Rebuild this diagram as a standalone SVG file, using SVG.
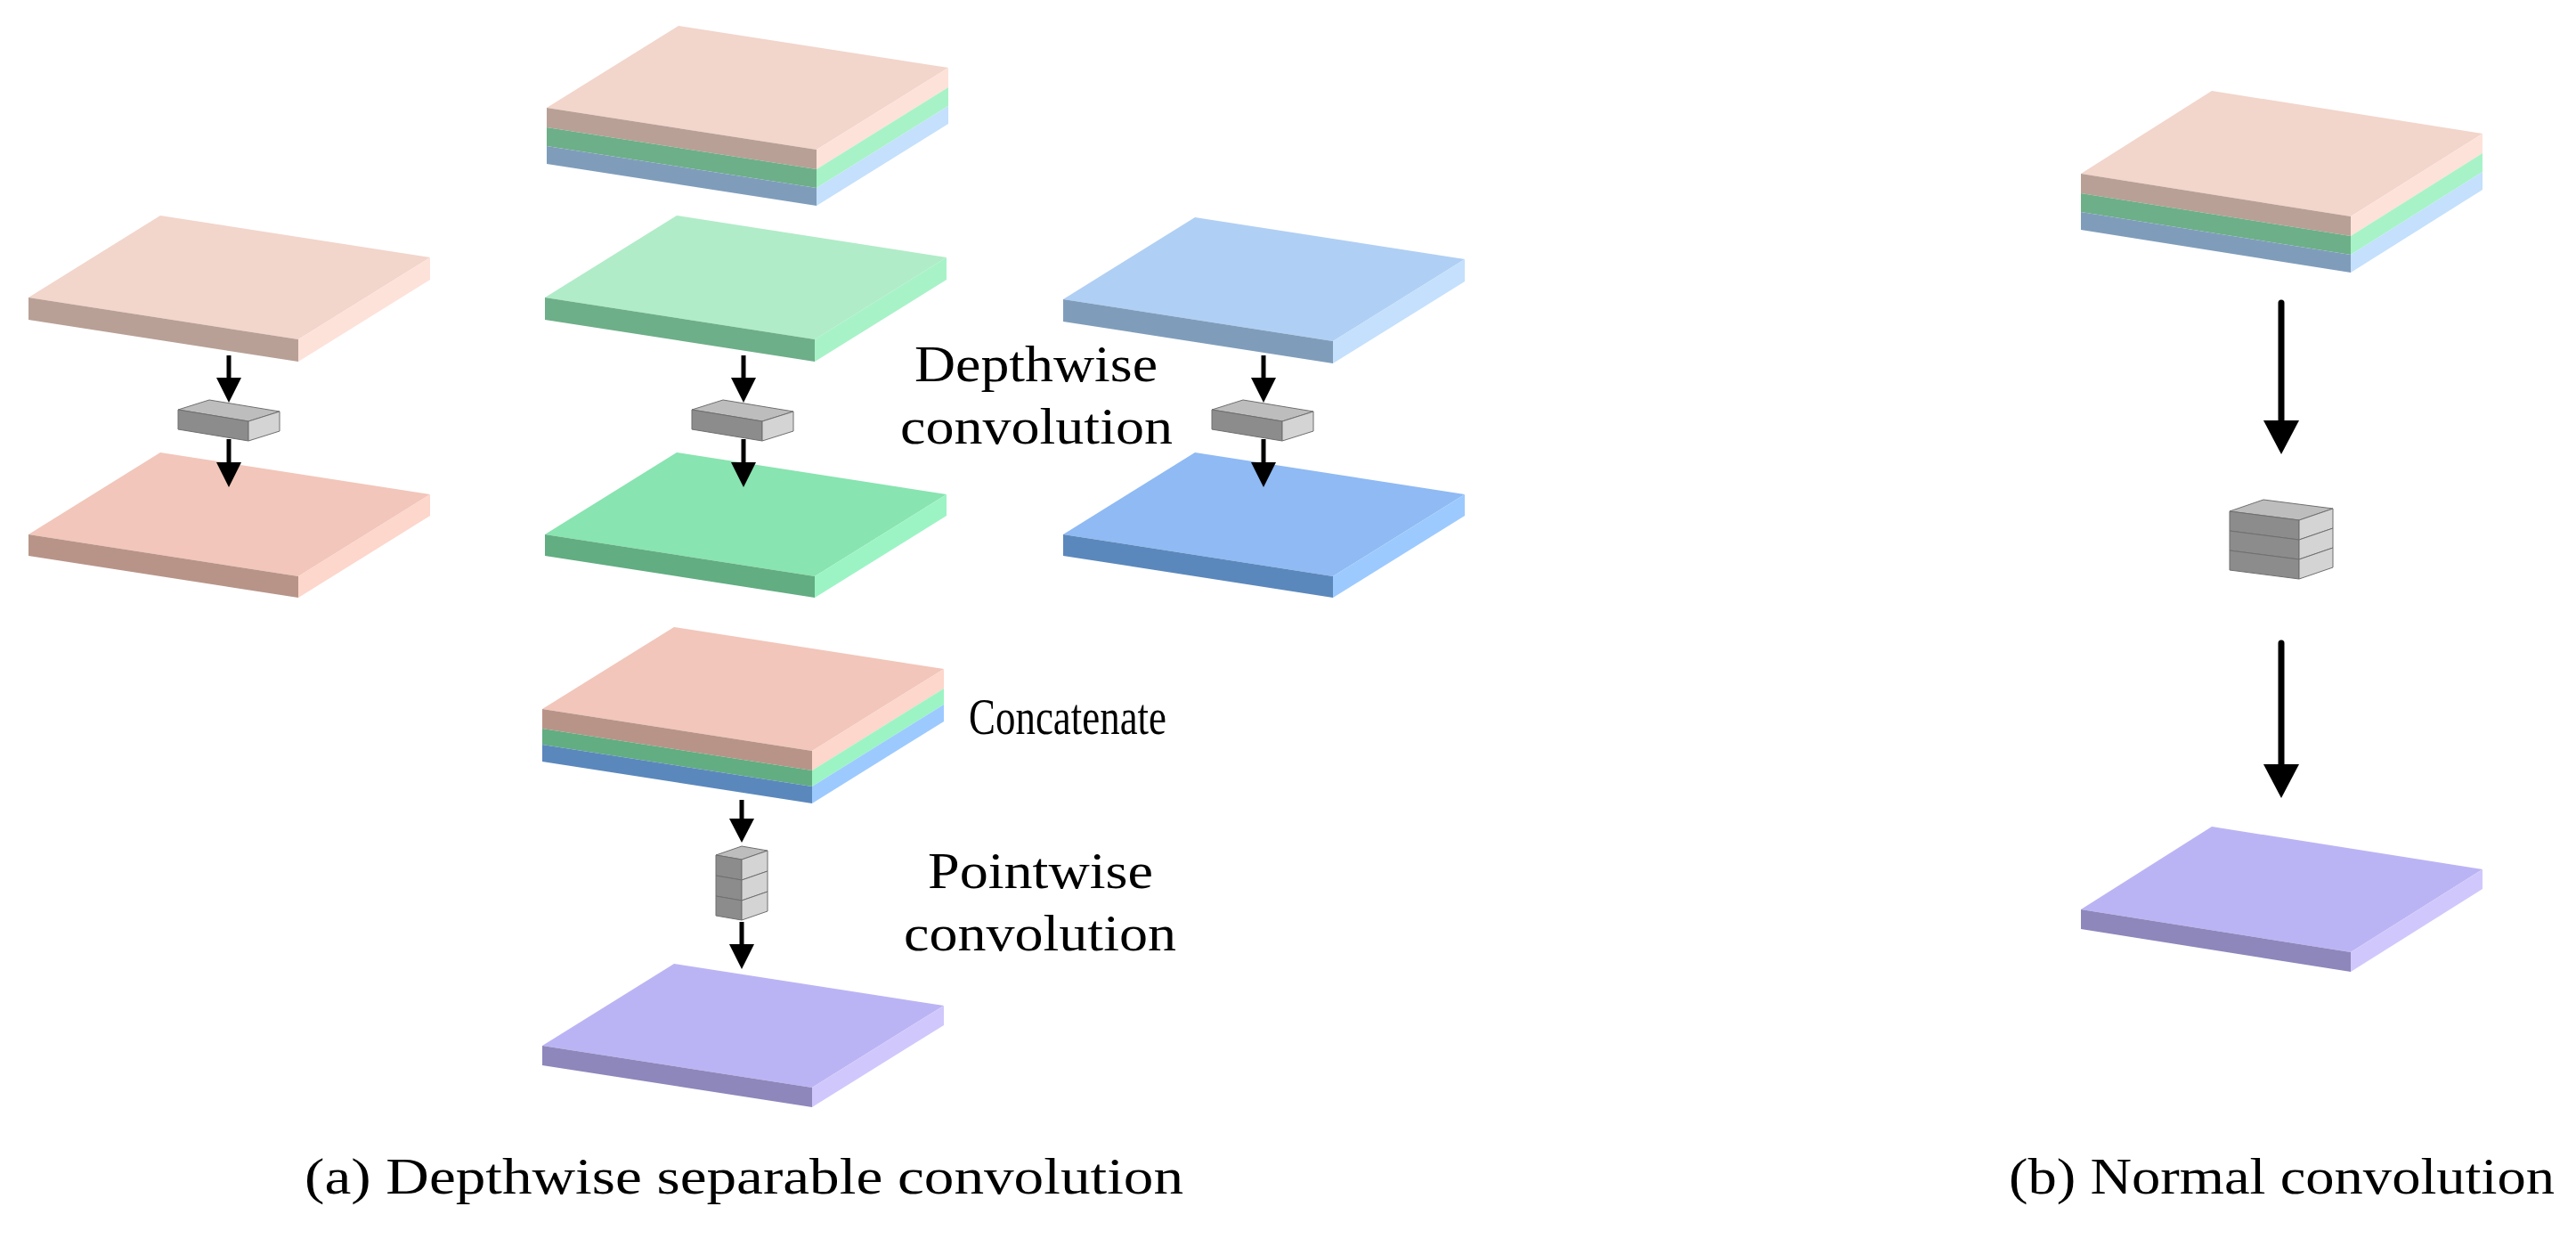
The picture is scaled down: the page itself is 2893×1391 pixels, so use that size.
<svg xmlns="http://www.w3.org/2000/svg" width="2893" height="1391" viewBox="0 0 2893 1391">
<style>
.t{font-family:"Liberation Serif",serif;font-size:56px;fill:#000}
.cap{font-family:"Liberation Serif",serif;font-size:56px;fill:#000}
.ln{stroke:#000;stroke-width:5;fill:none}
.lnb{stroke:#000;stroke-width:7;fill:none;stroke-linecap:round}
.ah{fill:#000}
.ct{fill:#bdbdbd;stroke:#6f6f6f;stroke-width:1}
.cf{fill:#8c8c8c;stroke:#6f6f6f;stroke-width:1}
.cr{fill:#d4d4d4;stroke:#6f6f6f;stroke-width:1}
</style>
<defs>
<g id="slabshape">
<polygon points="0,0 303,47 451,-45 148,-92"/>
</g>
</defs>
<rect width="2893" height="1391" fill="#fff"/>

<!-- left column -->
<g id="pink-in" transform="translate(32,334)">
<polygon points="0,0 303,47 451,-45 148,-92" fill="#f2d5cb"/>
<polygon points="0,0 303,47 303,72 0,25" fill="#b8a096"/>
<polygon points="303,47 451,-45 451,-20 303,72" fill="#fde2da"/>
</g>
<g id="kernel-1" transform="translate(200,460)">
<polygon class="ct" points="0,0 79,13 114,2 35,-11"/>
<polygon class="cf" points="0,0 79,13 79,35 0,22"/>
<polygon class="cr" points="79,13 114,2 114,24 79,35"/>
</g>
<g id="pink-out" transform="translate(32,600)">
<polygon points="0,0 303,47 451,-45 148,-92" fill="#f2c6ba"/>
<polygon points="0,0 303,47 303,71 0,24" fill="#b89488"/>
<polygon points="303,47 451,-45 451,-21 303,71" fill="#fdd6cc"/>
</g>

<!-- middle column -->
<g id="input-stack" transform="translate(614,121)">
<polygon points="0,0 303,47 451,-45 148,-92" fill="#f2d5cb"/>
<polygon points="0,0 303,47 303,69 0,22" fill="#b8a096"/>
<polygon points="0,22 303,69 303,90 0,43" fill="#6daf88"/>
<polygon points="0,43 303,90 303,110 0,63" fill="#7f9dbb"/>
<polygon points="303,47 451,-45 451,-23 303,69" fill="#fde2da"/>
<polygon points="303,69 451,-23 451,-2 303,90" fill="#a8f2c8"/>
<polygon points="303,90 451,-2 451,18 303,110" fill="#c4e0fc"/>
</g>
<g id="green-in" transform="translate(612,334)">
<polygon points="0,0 303,47 451,-45 148,-92" fill="#b0ecc8"/>
<polygon points="0,0 303,47 303,72 0,25" fill="#6daf88"/>
<polygon points="303,47 451,-45 451,-20 303,72" fill="#a8f2c8"/>
</g>
<g id="kernel-2" transform="translate(777,460)">
<polygon class="ct" points="0,0 79,13 114,2 35,-11"/>
<polygon class="cf" points="0,0 79,13 79,35 0,22"/>
<polygon class="cr" points="79,13 114,2 114,24 79,35"/>
</g>
<g id="green-out" transform="translate(612,600)">
<polygon points="0,0 303,47 451,-45 148,-92" fill="#88e4b0"/>
<polygon points="0,0 303,47 303,71 0,24" fill="#62ad82"/>
<polygon points="303,47 451,-45 451,-21 303,71" fill="#9cf4c4"/>
</g>

<!-- right column -->
<g id="blue-in" transform="translate(1194,336)">
<polygon points="0,0 303,47 451,-45 148,-92" fill="#b0cff4"/>
<polygon points="0,0 303,47 303,72 0,25" fill="#7f9dbb"/>
<polygon points="303,47 451,-45 451,-20 303,72" fill="#c4e0fc"/>
</g>
<g id="kernel-3" transform="translate(1361,460)">
<polygon class="ct" points="0,0 79,13 114,2 35,-11"/>
<polygon class="cf" points="0,0 79,13 79,35 0,22"/>
<polygon class="cr" points="79,13 114,2 114,24 79,35"/>
</g>
<g id="blue-out" transform="translate(1194,600)">
<polygon points="0,0 303,47 451,-45 148,-92" fill="#8fbaf4"/>
<polygon points="0,0 303,47 303,71 0,24" fill="#5b88bc"/>
<polygon points="303,47 451,-45 451,-21 303,71" fill="#9ccaff"/>
</g>

<!-- concatenate -->
<g id="concat" transform="translate(609,796)">
<polygon points="0,0 303,47 451,-45 148,-92" fill="#f2c6ba"/>
<polygon points="0,0 303,47 303,69 0,22" fill="#b89488"/>
<polygon points="0,22 303,69 303,87 0,40" fill="#62ad82"/>
<polygon points="0,40 303,87 303,106 0,59" fill="#5b88bc"/>
<polygon points="303,47 451,-45 451,-23 303,69" fill="#fdd6cc"/>
<polygon points="303,69 451,-23 451,-5 303,87" fill="#9cf4c4"/>
<polygon points="303,87 451,-5 451,14 303,106" fill="#9ccaff"/>
</g>
<g id="pointwise-kernel" transform="translate(804,960)">
<polygon class="ct" points="0,0 29,5 58,-5 29,-10"/>
<polygon class="cf" points="0,0 29,5 29,28 0,23"/>
<polygon class="cf" points="0,23 29,28 29,51 0,46"/>
<polygon class="cf" points="0,46 29,51 29,73 0,68"/>
<polygon class="cr" points="29,5 58,-5 58,18 29,28"/>
<polygon class="cr" points="29,28 58,18 58,41 29,51"/>
<polygon class="cr" points="29,51 58,41 58,63 29,73"/>
</g>
<g id="pointwise-out" transform="translate(609,1174)">
<polygon points="0,0 303,47 451,-45 148,-92" fill="#bbb4f4"/>
<polygon points="0,0 303,47 303,69 0,22" fill="#8d87bc"/>
<polygon points="303,47 451,-45 451,-23 303,69" fill="#d0c8fc"/>
</g>

<!-- normal convolution -->
<g id="normal-input" transform="translate(2337,195)">
<polygon points="0,0 303,48 451,-45 147,-93" fill="#f2d5cb"/>
<polygon points="0,0 303,48 303,70 0,22" fill="#b8a096"/>
<polygon points="0,22 303,70 303,91 0,43" fill="#6daf88"/>
<polygon points="0,43 303,91 303,111 0,63" fill="#7f9dbb"/>
<polygon points="303,48 451,-45 451,-23 303,70" fill="#fde2da"/>
<polygon points="303,70 451,-23 451,-2 303,91" fill="#a8f2c8"/>
<polygon points="303,91 451,-2 451,18 303,111" fill="#c4e0fc"/>
</g>
<g id="normal-kernel" transform="translate(2504,574)">
<polygon class="ct" points="0,0 78,10 116,-3 38,-13"/>
<polygon class="cf" points="0,0 78,10 78,32 0,22"/>
<polygon class="cf" points="0,22 78,32 78,54 0,44"/>
<polygon class="cf" points="0,44 78,54 78,76 0,66"/>
<polygon class="cr" points="78,10 116,-3 116,19 78,32"/>
<polygon class="cr" points="78,32 116,19 116,41 78,54"/>
<polygon class="cr" points="78,54 116,41 116,63 78,76"/>
</g>
<g id="normal-out" transform="translate(2337,1021)">
<polygon points="0,0 303,48 451,-45 147,-93" fill="#bbb4f4"/>
<polygon points="0,0 303,48 303,70 0,22" fill="#8d87bc"/>
<polygon points="303,48 451,-45 451,-23 303,70" fill="#d0c8fc"/>
</g>

<g id="connectors">
<line class="ln" x1="257" y1="399" x2="257" y2="430"/><polygon class="ah" points="243,424 271,424 257,452"/>
<line class="ln" x1="257" y1="493" x2="257" y2="525"/><polygon class="ah" points="243,519 271,519 257,547"/>
<line class="ln" x1="835" y1="399" x2="835" y2="430"/><polygon class="ah" points="821,424 849,424 835,452"/>
<line class="ln" x1="835" y1="493" x2="835" y2="525"/><polygon class="ah" points="821,519 849,519 835,547"/>
<line class="ln" x1="1419" y1="399" x2="1419" y2="430"/><polygon class="ah" points="1405,424 1433,424 1419,452"/>
<line class="ln" x1="1419" y1="493" x2="1419" y2="525"/><polygon class="ah" points="1405,519 1433,519 1419,547"/>
<line class="ln" x1="833" y1="898" x2="833" y2="925"/><polygon class="ah" points="819,919 847,919 833,946"/>
<line class="ln" x1="833" y1="1035" x2="833" y2="1065"/><polygon class="ah" points="819,1060 847,1060 833,1088"/>
<line class="lnb" x1="2562" y1="340" x2="2562" y2="480"/><polygon class="ah" points="2542,472 2582,472 2562,510"/>
<line class="lnb" x1="2562" y1="722" x2="2562" y2="866"/><polygon class="ah" points="2542,858 2582,858 2562,896"/>
</g>

<g id="labels">
<text class="t" x="1027" y="428" textLength="273" lengthAdjust="spacingAndGlyphs">Depthwise</text>
<text class="t" x="1011" y="498" textLength="306" lengthAdjust="spacingAndGlyphs">convolution</text>
<text class="t" x="1088" y="824" textLength="222" lengthAdjust="spacingAndGlyphs">Concatenate</text>
<text class="t" x="1042" y="997" textLength="253" lengthAdjust="spacingAndGlyphs">Pointwise</text>
<text class="t" x="1015" y="1067" textLength="306" lengthAdjust="spacingAndGlyphs">convolution</text>
<text class="cap" x="342" y="1340" textLength="987" lengthAdjust="spacingAndGlyphs">(a) Depthwise separable convolution</text>
<text class="cap" x="2256" y="1340" textLength="613" lengthAdjust="spacingAndGlyphs">(b) Normal convolution</text>
</g>
</svg>
